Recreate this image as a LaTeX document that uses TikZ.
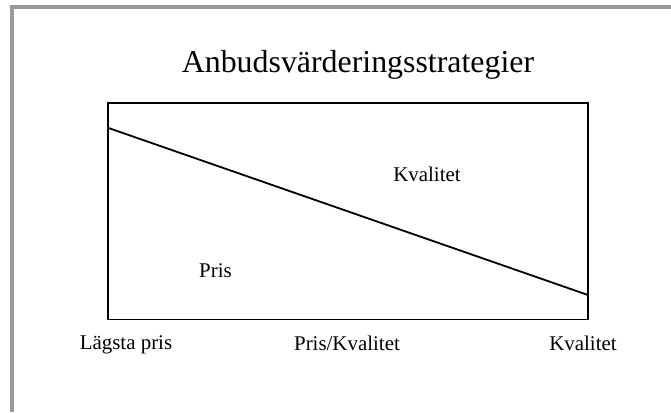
\documentclass[tikz,border=0pt]{standalone}
\usepackage{fontspec}
\setmainfont{Liberation Serif}
\begin{document}
\begin{tikzpicture}[x=1bp,y=-1bp,
  label/.style={anchor=base,inner sep=0pt,font=\fontsize{21}{24}\selectfont},
  heading/.style={anchor=base,inner sep=0pt,font=\fontsize{32}{36}\selectfont},
  frame/.style={draw=black!40,line width=4bp},
  chart/.style={draw=black,line width=1.8bp}]
  \useasboundingbox (0,0) rectangle (671,412);
  % slide frame
  \coordinate (ftl) at (12,7);
  \coordinate (ftr) at (671,7);
  \coordinate (fbl) at (12,412);
  \draw[frame] (ftr) -- (ftl) -- (fbl);
  % heading
  \node[heading] (title) at (358,72) {Anbudsvärderingsstrategier};
  % chart box and dividing line
  \coordinate (tl) at (107.7,103.3);
  \coordinate (br) at (588,319.5);
  \coordinate (lstart) at (107.7,127.7);
  \coordinate (lend) at (588,295);
  \draw[chart] (tl) rectangle (br);
  \draw[chart] (lstart) -- (lend);
  % region labels
  \node[label] (kval) at (427,181) {Kvalitet};
  \node[label] (pris) at (215.5,277.7) {Pris};
  % axis labels
  \node[label] (lagsta) at (126,349) {Lägsta pris};
  \node[label] (mix) at (347,350) {Pris/Kvalitet};
  \node[label] (kvalx) at (583,350) {Kvalitet};
\end{tikzpicture}
\end{document}
